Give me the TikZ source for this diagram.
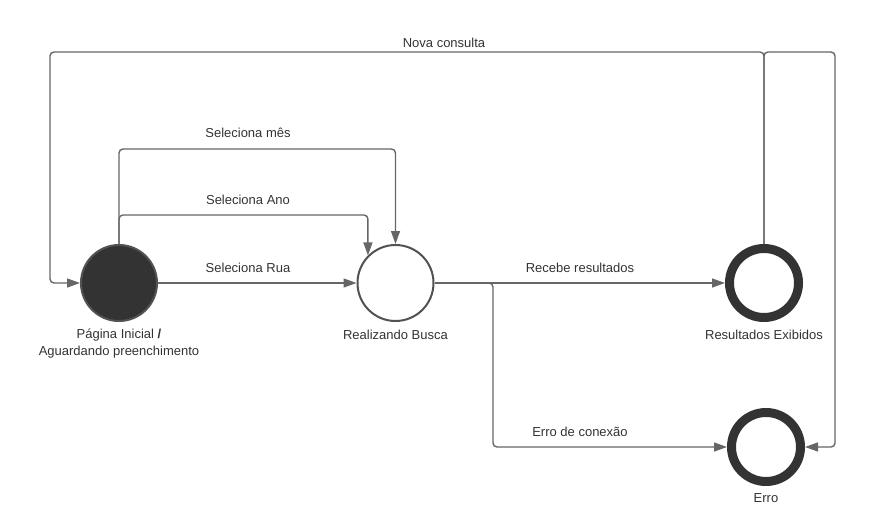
\documentclass[tikz,border=0pt]{standalone}
\usepackage{fontspec}
\setmainfont{Liberation Sans}
\usetikzlibrary{arrows.meta}
\definecolor{linec}{HTML}{666666}
\definecolor{txtc}{HTML}{333333}
\definecolor{darkc}{HTML}{333333}
\begin{document}
\begin{tikzpicture}[x=1pt,y=-1pt,
  every node/.style={font=\fontsize{13}{15}\selectfont, text=txtc},
  edge/.style={draw=linec, line width=1.4pt, rounded corners=4pt, -{Triangle[length=13pt,width=9pt]}},
  initstate/.style={circle, inner sep=0pt, minimum size=76pt, fill=darkc, draw=linec!80!black, line width=2pt},
  normstate/.style={circle, inner sep=0pt, minimum size=76pt, fill=white, draw=linec!80!black, line width=2pt},
  finalstate/.style={circle, inner sep=0pt, minimum size=69pt, fill=white, draw=darkc, line width=9pt},
  lbl/.style={inner sep=0pt, anchor=center}]
\useasboundingbox (0,0) rectangle (888,524);
\node[initstate] (ini) at (119,283) {};
\node[normstate] (busca) at (395.5,283) {};
\node[finalstate] (res) at (764,283) {};
\node[finalstate] (erro) at (766,447) {};

\node[lbl] (tini1) at (119,335) {Página Inicial \textbf{/}};
\node[lbl] (tini2) at (119,352) {Aguardando preenchimento};
\node[lbl] (tbusca) at (395.5,335) {Realizando Busca};
\node[lbl] (tres) at (764,335) {Resultados Exibidos};
\node[lbl] (terro) at (766,498) {Erro};

\coordinate (mes) at (250,149);
\coordinate (ano) at (250,215);
\coordinate (branch) at (493,283);
\coordinate (tl) at (50,52);
\coordinate (tr) at (835,52);

\draw[edge] (ini.east) -- (busca.west);
\draw[edge] (ini.north) |- (ano) -| (busca.north west);
\draw[edge] (ini.north) |- (mes) -| (busca.north);
\draw[edge] (busca.east) -- (res.west);
\draw[edge] (busca.east) -- (branch) |- (erro.west);
\draw[edge] (res.north) |- (tl) |- (ini.west);
\draw[edge] (res.north) |- (tr) |- (erro.east);

\node[lbl] (lrua) at (248,268) {Seleciona Rua};
\node[lbl] (lano) at (248,200) {Seleciona Ano};
\node[lbl] (lmes) at (248,133) {Seleciona mês};
\node[lbl] (lrec) at (580,268) {Recebe resultados};
\node[lbl] (lerr) at (580,432) {Erro de conexão};
\node[lbl] (lnova) at (444,43) {Nova consulta};
\end{tikzpicture}
\end{document}
